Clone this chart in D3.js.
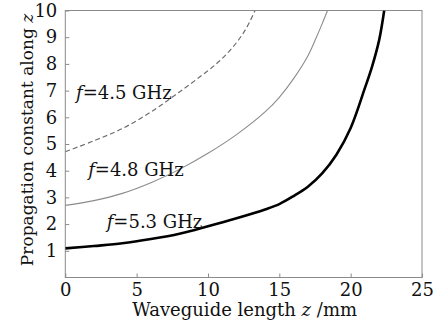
<!DOCTYPE html>
<html>
<head>
<meta charset="utf-8">
<script src="https://cdn.jsdelivr.net/npm/d3@7"></script>
<style>
  body { margin: 0; background: #fff; }
  text { font-family: "DejaVu Serif", serif; fill: #111; }
</style>
</head>
<body>
<svg id="chart" width="443" height="323"></svg>
<script>
// data: z (mm) against propagation constant
const z45 = [0, 2, 4, 6, 8, 10, 11, 12, 12.7, 13.3]
const b45 = [4.71, 5.12, 5.58, 6.2, 6.95, 7.75, 8.2, 8.8, 9.35, 10]

const z48 = [0, 2, 4, 6, 8, 10, 12, 14, 15, 16, 17, 17.6, 18, 18.38]
const b48 = [2.70, 2.88, 3.15, 3.55, 4.05, 4.65, 5.35, 6.2, 6.75, 7.45, 8.3, 9.0, 9.5, 10]

const z53 = [0, 2, 4, 6, 8, 10, 12, 14, 15, 16, 17, 18, 19, 20, 21, 21.5, 22, 22.35]
const b53 = [1.09, 1.18, 1.28, 1.44, 1.64, 1.92, 2.22, 2.55, 2.75, 3.05, 3.4, 3.9, 4.6, 5.6, 7.1, 7.9, 8.9, 10]

const xTicks = [0, 5, 10, 15, 20, 25]
const yTicks = [1, 2, 3, 4, 5, 6, 7, 8, 9, 10]

const labels = [
    {text: "4.5 GHz", z: 0.75, b: 6.7},
    {text: "4.8 GHz", z: 1.6, b: 3.8},
    {text: "5.3 GHz", z: 2.9, b: 1.85}
]

const FONT = "'DejaVu Serif', serif"
const svg = d3.select("#chart")
const margin = {top: 10.5, right: 21, bottom: 45.5, left: 65.3}
const W = 443, H = 323

const x = d3.scaleLinear().domain([0, 25]).range([margin.left, W - margin.right])
const y = d3.scaleLinear().domain([0, 10]).range([H - margin.bottom, margin.top])

svg.append("clipPath").attr("id", "clip")
    .append("rect")
    .attr("x", x(0)).attr("y", y(10))
    .attr("width", x(25) - x(0)).attr("height", y(0) - y(10))

// frame
svg.append("rect")
    .attr("x", x(0)).attr("y", y(10))
    .attr("width", x(25) - x(0)).attr("height", y(0) - y(10))
    .attr("fill", "none").attr("stroke", "#8a8a8a").attr("stroke-width", 1)

// axes with inward ticks
let xAxis = svg.append("g")
    .attr("transform", "translate(0," + y(0) + ")")
    .call(d3.axisBottom(x).tickValues(xTicks).tickSize(-4).tickPadding(6))
let yAxis = svg.append("g")
    .attr("transform", "translate(" + x(0) + ",0)")
    .call(d3.axisLeft(y).tickValues(yTicks).tickSize(-4).tickPadding(8))

for (let ax of [xAxis, yAxis]) {
    ax.attr("font-family", FONT).attr("font-size", 18)
    ax.select(".domain").remove()
    ax.selectAll(".tick line").attr("stroke", "#8a8a8a")
    ax.selectAll(".tick text").attr("fill", "#111")
}

// curves
const line = d3.line()
    .x(d => x(d[0]))
    .y(d => y(d[1]))
    .curve(d3.curveCatmullRom.alpha(0.5))

const series = [
    {z: z45, b: b45, color: "#6e6e6e", width: 1.2, dash: "5,3"},
    {z: z48, b: b48, color: "#8c8c8c", width: 1.1, dash: null},
    {z: z53, b: b53, color: "#000", width: 2.6, dash: null}
]

let curves = svg.append("g").attr("clip-path", "url(#clip)")
for (let s of series) {
    curves.append("path")
        .datum(s.z.map((v, i) => [v, s.b[i]]))
        .attr("d", line)
        .attr("fill", "none")
        .attr("stroke", s.color)
        .attr("stroke-width", s.width)
        .attr("stroke-dasharray", s.dash)
}

// curve labels
for (let l of labels) {
    let t = svg.append("text")
        .attr("x", x(l.z))
        .attr("y", y(l.b))
        .style("font-size", "18px")
    t.append("tspan").style("font-style", "italic").text("f")
    t.append("tspan").text("=" + l.text)
}

// axis titles
let xt = svg.append("text")
    .attr("x", (x(0) + x(25)) / 2 + 1)
    .attr("y", 316)
    .attr("text-anchor", "middle")
    .style("font-size", "18px")
xt.append("tspan").text("Waveguide length ")
xt.append("tspan").style("font-style", "italic").text("z")
xt.append("tspan").text(" /mm")

let yt = svg.append("text")
    .attr("transform", "translate(33,140) rotate(-90)")
    .attr("text-anchor", "middle")
    .style("font-size", "17px")
yt.append("tspan").text("Propagation constant along ")
yt.append("tspan").style("font-style", "italic").text("z")
</script>
</body>
</html>
